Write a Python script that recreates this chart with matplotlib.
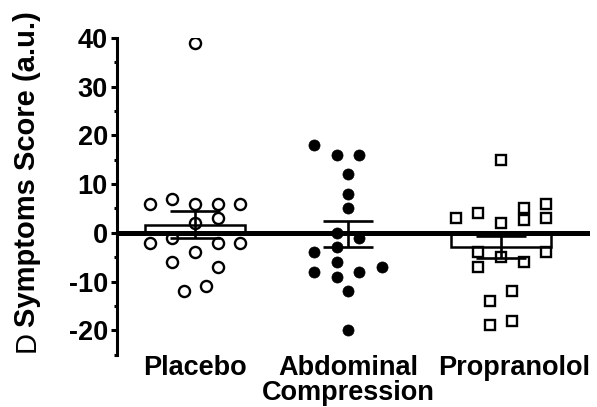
import numpy as np
import matplotlib
matplotlib.use("Agg")
import matplotlib.pyplot as plt
from matplotlib.transforms import ScaledTranslation

plt.rcParams['font.family'] = ['Liberation Sans', 'DejaVu Sans']
plt.rcParams['axes.unicode_minus'] = False

# ---- data ----
groups = ["Placebo", "Abdominal\nCompression", "Propranolol"]
placebo = [39, 6, 6, 6, 6, 7, 3, 2, -2, -2, -2, -1, -4, -6, -7, -12, -11]
abdominal = [18, 16, 16, 12, 8, 5, 0, -1, -3, -4, -6, -8, -9, -8, -7, -12, -20]
propranolol = [15, 3, 4, 2, 5, 2.7, 6, 3, -4, -7, -5, -6, -4, -12, -14, -19, -18]

# horizontal slot of each point in the scatter layout (in units of one slot)
placebo_slot = [0, -2, 0, 1, 2, -1, 1, 0, -2, 1, 2, -1, 0, -1, 1, -0.5, 0.5]
abdominal_slot = [-1.5, -0.5, 0.5, 0, 0, 0, -0.5, 0.5, -0.5, -1.5, -0.5, -1.5, -0.5, 0.5, 1.5, 0, 0]
propranolol_slot = [0, -2, -1, 0, 1, 1, 2, 2, -1, -1, 0, 1, 2, 0.5, -0.5, -0.5, 0.5]

yticks = [-20, -10, 0, 10, 20, 30, 40]

series = [placebo, abdominal, propranolol]
slots = [placebo_slot, abdominal_slot, propranolol_slot]
styles = [
    dict(marker='o', ms=8, mfc='none', mec='black', mew=1.7),
    dict(marker='o', ms=8, mfc='black', mec='black', mew=0.5),
    dict(marker='s', ms=7.3, mfc='none', mec='black', mew=1.7),
]

W, H = 597, 407
fig = plt.figure(figsize=(W / 100, H / 100), dpi=100)
px0, px1 = 117, 590
py_top, py_bot = 38, 354.6
ax = fig.add_axes([px0 / W, 1 - py_bot / H, (px1 - px0) / W, (py_bot - py_top) / H])

slot_w = 0.148
for i, (vals, sl, st) in enumerate(zip(series, slots, styles)):
    xs = i + np.array(sl) * slot_w
    ax.plot(xs, vals, linestyle='none', zorder=3, **st)

means = [np.mean(v) for v in series]
sems = [np.std(v, ddof=1) / np.sqrt(len(v)) for v in series]
pos = np.arange(len(series))
ax.bar(pos, means, width=0.65, fill=False, edgecolor='black', linewidth=1.8, zorder=4)
for p, m, s in zip(pos, means, sems):
    ax.vlines(p, m - s, m + s, color='black', lw=1.9, zorder=4)
    ax.hlines([m - s, m + s], p - 0.165, p + 0.165, color='black', lw=1.9, zorder=4)

ax.axhline(0, color='black', lw=3.6, zorder=5)

ax.set_xlim(-(195 - px0) / 153, (px1 - 195) / 153)
ax.set_ylim(-25, 40)
for s in ['top', 'right', 'bottom']:
    ax.spines[s].set_visible(False)
ax.spines['left'].set_linewidth(2.2)
ax.set_yticks(yticks)
ax.set_yticks(np.arange(-25, 41, 5), minor=True)
ax.tick_params(axis='y', which='major', length=4.5, width=2.2, pad=2, labelsize=19.5)
ax.tick_params(axis='y', which='minor', length=2.5, width=2.2)
for lab in ax.get_yticklabels():
    lab.set_fontweight('bold')

ax.set_xticks(pos)
ax.set_xticklabels(groups, fontsize=19.5, fontweight='bold', linespacing=0.95)
ax.tick_params(axis='x', length=0, pad=0)
xl = ax.get_xticklabels()
xl[2].set_transform(xl[2].get_transform() + ScaledTranslation(13 / 100, 0, fig.dpi_scale_trans))

fig.text(27 / W, 1 - 327 / H, "Symptoms Score (a.u.)", rotation=90, fontsize=21,
         fontweight='bold', ha='center', va='bottom')
fig.text(27 / W, 1 - 352 / H, "D", rotation=90, fontsize=21,
         fontweight='normal', ha='center', va='bottom')

fig.savefig("out.png", dpi=100)
